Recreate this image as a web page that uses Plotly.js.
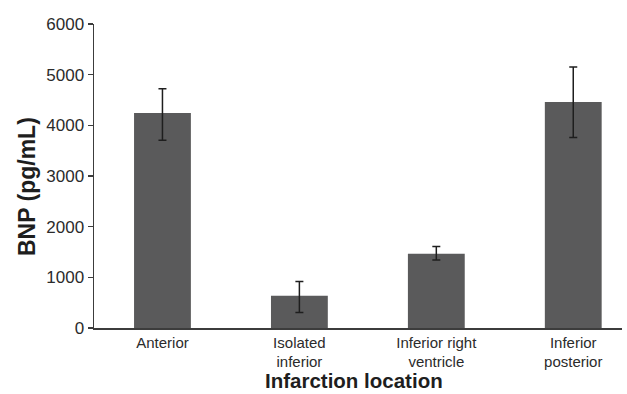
<!DOCTYPE html>
<html>
<head>
<meta charset="utf-8">
<script src="https://cdn.plot.ly/plotly-3.0.1.min.js"></script>
<style>html,body{margin:0;padding:0;background:#fff;}#chart{width:627px;height:394px;}</style>
</head>
<body>
<div id="chart"></div>
<script>
var categories = ["Anterior", "Isolated<br>inferior", "Inferior right<br>ventricle", "Inferior<br>posterior"];
var bnpMean = [4245, 637, 1465, 4462];
var errUpper = [479, 282, 144, 690];
var errLower = [538, 329, 124, 704];
var yTickVals = [0, 1000, 2000, 3000, 4000, 5000, 6000];

var trace = {
  type: "bar",
  x: categories,
  y: bnpMean,
  width: 0.415,
  marker: {color: "#5a5a5b", line: {width: 0}},
  error_y: {type: "data", symmetric: false, array: errUpper, arrayminus: errLower,
            color: "#1e1e1e", thickness: 1.5, width: 4},
  hoverinfo: "none"
};

var FONT = "'Liberation Sans', Arial, Helvetica, sans-serif";

var layout = {
  width: 627, height: 394,
  margin: {l: 94, r: 5, t: 24, b: 66, pad: 0},
  paper_bgcolor: "#fff", plot_bgcolor: "#fff",
  showlegend: false,
  font: {family: FONT, color: "#2b2b2b"},
  xaxis: {
    type: "category",
    range: [-0.5, 3.356],
    showline: true, linecolor: "#3c3c3c", linewidth: 1.5,
    ticks: "", showgrid: false, zeroline: false,
    tickfont: {family: FONT, size: 15, color: "#2b2b2b"},
    title: {text: ""}
  },
  yaxis: {
    range: [0, 6000],
    tickvals: yTickVals,
    showline: true, linecolor: "#3c3c3c", linewidth: 1.5,
    ticks: "outside", ticklen: 5, tickwidth: 1.2, tickcolor: "#3c3c3c",
    showgrid: false, zeroline: false,
    tickfont: {family: FONT, size: 17, color: "#2b2b2b"},
    title: {text: ""}
  },
  annotations: [{
    text: "BNP (pg/mL)", textangle: -90,
    xref: "paper", yref: "paper",
    x: -0.128, y: 0.465, xanchor: "center", yanchor: "middle",
    showarrow: false,
    font: {family: FONT, size: 23, color: "#1e1e1e", weight: "bold"}
  }, {
    text: "Infarction location",
    xref: "paper", yref: "paper",
    x: 0.492, y: -0.1743, xanchor: "center", yanchor: "middle",
    showarrow: false, borderpad: 0,
    font: {family: FONT, size: 20.5, color: "#1e1e1e", weight: "bold"}
  }]
};

Plotly.newPlot("chart", [trace], layout, {displayModeBar: false, staticPlot: true});
</script>
</body>
</html>
